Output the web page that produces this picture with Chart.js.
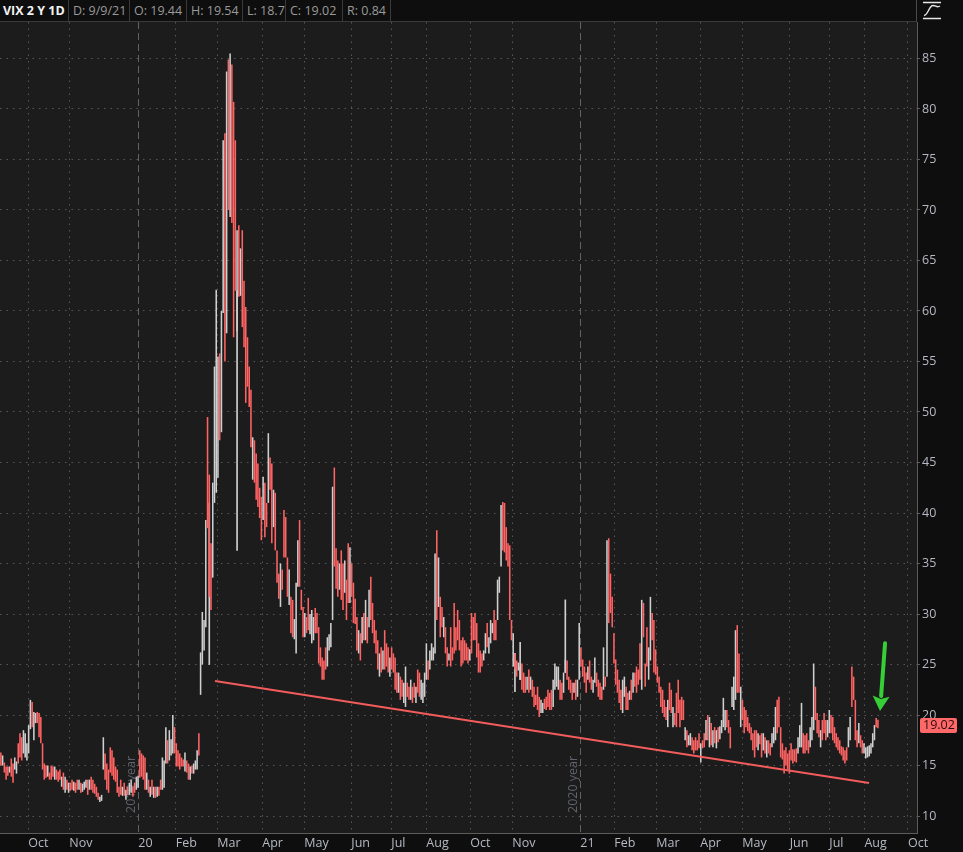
<!DOCTYPE html>
<html>
<head>
<meta charset="utf-8">
<title>VIX 2 Y 1D</title>
<script src="https://cdn.jsdelivr.net/npm/chart.js@4.4.1/dist/chart.umd.min.js"></script>
<style>
  html, body { margin: 0; padding: 0; background: #0e0e0e; }
  body { width: 963px; height: 852px; position: relative; overflow: hidden; font-family: 'Open Sans', sans-serif; }
  #hdr { position: absolute; left: 0; top: 0; width: 917px; height: 22px; border-bottom: 1px solid #3a3a3a; border-right: 1px solid #4a4a4a; box-sizing: border-box; }
  .cell { position: absolute; top: 0; height: 21px; border-right: 1px solid #3a3a3a; box-sizing: border-box;
          color: #9a9a9a; font-size: 12.5px; line-height: 21px; padding-left: 4px; white-space: nowrap; }
  .cell.sym { color: #f2f2f2; font-weight: bold; padding-left: 3px; }
  #icon { position: absolute; left: 922px; top: 1px; }
  #wrap { position: absolute; left: 0; top: 22px; width: 963px; height: 830px; }
</style>
</head>
<body>
<div id="hdr">
  <div class="cell sym" style="left:0;width:69px">VIX 2 Y 1D</div>
  <div class="cell" style="left:69px;width:61px">D: 9/9/21</div>
  <div class="cell" style="left:130px;width:57px">O: 19.44</div>
  <div class="cell" style="left:187px;width:56px">H: 19.54</div>
  <div class="cell" style="left:243px;width:43px">L: 18.7</div>
  <div class="cell" style="left:286px;width:57px">C: 19.02</div>
  <div class="cell" style="left:343px;width:48px">R: 0.84</div>
</div>
<svg id="icon" width="20" height="19" viewBox="0 0 20 19">
  <path d="M1 1.5H19M1 17.5H19" stroke="#e6e6e6" stroke-width="1.6" fill="none"/>
  <path d="M2 14.5C6 14.5 7 4.5 11 4.5C14 4.5 15 7 18 5" stroke="#e6e6e6" stroke-width="1.4" fill="none"/>
</svg>
<div id="wrap"><canvas id="myChart"></canvas></div>

<script>
// each trading day: [open side, close side] of the drawn range (red when it closes lower)
const sep19 = [[16.3,15.0],[15.0,16.0],[15.3,14.3],[14.9,13.6],[14.9,14.0],[14.3,14.9],[15.7,13.9],[15.2,13.3],[14.6,15.8],[14.2,15.4],[17.2,15.2],[18.2,15.8],[17.8,15.5],[16.2,18.5],[15.8,18.2],[15.5,17.2]];
const oct19 = [[16.2,19.0],[18.6,21.5],[21.3,18.8],[17.5,20.3],[19.2,20.2],[20.3,19.2],[20.2,17.8],[19.8,17.2],[17.2,14.6],[15.2,13.6],[15.0,13.8],[13.9,15.0],[14.3,13.6],[15.0,13.6],[14.9,13.9],[13.6,14.9],[14.6,13.6],[14.4,13.4],[14.6,13.6],[12.9,13.9],[14.3,12.6],[12.3,13.9],[13.6,12.6]];
const nov19 = [[12.3,13.3],[13.3,12.5],[13.6,12.6],[12.5,13.4],[13.3,12.3],[13.6,12.6],[12.6,13.6],[13.3,12.3],[12.4,13.2],[12.6,13.4],[12.8,13.6],[13.6,12.1],[12.6,13.6],[13.9,12.6],[13.6,12.3],[13.2,12.2],[12.9,11.9],[12.3,11.6],[11.4,11.9],[11.5,12.1]];
const dec19 = [[14.6,17.8],[16.2,13.6],[15.2,12.6],[14.6,12.3],[16.8,14.3],[16.5,14.0],[15.8,13.6],[14.9,13.4],[14.6,12.3],[12.9,11.9],[13.6,12.1],[12.0,12.9],[13.3,12.0],[11.6,12.6],[12.9,12.1],[12.1,13.3],[12.3,13.6],[12.9,11.9],[13.3,12.3],[12.6,13.9],[12.8,14.0]];
const jan20 = [[16.5,13.8],[16.2,13.9],[16.0,13.6],[15.8,12.6],[12.6,14.3],[13.6,12.3],[11.9,12.9],[13.6,12.1],[11.8,12.9],[12.9,11.8],[11.9,12.9],[12.9,12.0],[13.6,12.6],[12.6,15.8],[12.8,15.5],[15.2,18.8],[17.5,15.2],[15.5,18.5],[16.0,17.6],[16.2,20.0],[18.8,16.2]];
const feb20 = [[17.2,14.9],[16.5,14.9],[16.2,14.6],[15.8,14.9],[15.6,14.9],[14.4,16.3],[15.5,14.3],[15.2,13.6],[13.6,14.9],[15.0,14.2],[14.2,15.2],[14.6,15.5],[14.6,16.5],[18.2,16.0],[22.0,26.2],[25.0,30.2],[26.4,29.4],[28.7,39.3],[49.5,38.5]];
const mar20 = [[43.8,31.7],[37.0,30.4],[33.6,43.0],[41.0,54.5],[42.0,62.1],[43.5,55.5],[55.8,47.2],[48.0,60.0],[59.8,76.9],[77.6,55.0],[57.8,83.7],[84.9,70.0],[69.3,85.5],[84.4,68.7],[80.7,57.4],[76.9,62.0],[58.0,68.0],[68.5,61.4],[61.5,66.2],[68.0,58.4],[63.0,56.4],[60.4,50.9]];
const apr20 = [[57.4,52.5],[54.5,50.5],[52.2,46.5],[43.3,47.5],[47.2,43.0],[45.9,41.3],[44.9,40.6],[42.5,39.5],[41.6,37.3],[39.3,43.6],[43.0,37.6],[41.0,38.6],[41.0,47.9],[45.5,42.3],[44.9,37.0],[38.6,42.3],[42.0,36.3],[36.3,33.1],[34.0,31.5],[30.7,35.0],[34.4,32.4]];
const may20 = [[40.3,35.6],[39.6,35.6],[35.6,31.7],[30.9,34.4],[31.7,28.1],[31.4,27.7],[27.5,29.5],[26.1,33.1],[32.7,37.3],[39.3,32.7],[32.4,30.4],[30.7,27.7],[27.7,30.1],[29.7,28.1],[31.6,28.4],[28.0,30.0],[27.1,30.4],[27.4,29.7],[30.6,28.1],[30.1,28.1]];
const jun20 = [[28.7,25.1],[26.7,24.8],[25.7,23.5],[25.4,23.5],[26.7,24.5],[24.8,27.7],[26.4,28.0],[26.7,29.1],[29.4,42.6],[44.5,34.7],[36.5,32.5],[35.3,31.7],[32.4,35.0],[36.3,31.4],[35.0,30.4],[32.1,35.3],[33.4,29.4],[37.0,31.1],[31.1,36.6],[35.0,31.7],[33.1,29.1],[31.5,29.0]];
const jul20 = [[29.7,26.4],[26.1,28.4],[28.1,25.4],[27.1,29.7],[30.1,27.4],[27.4,31.4],[29.7,27.1],[28.7,32.4],[33.7,29.4],[31.1,28.1],[29.4,27.1],[28.4,26.1],[27.4,24.5],[23.8,26.1],[26.7,24.2],[24.5,26.4],[28.4,24.5],[27.1,24.8],[26.7,24.2],[23.8,25.7],[26.7,24.5],[26.1,24.2]];
const aug20 = [[25.7,22.5],[24.2,22.2],[22.2,24.2],[23.8,21.5],[23.5,21.8],[21.2,23.2],[20.8,24.8],[23.2,21.8],[22.8,21.5],[21.5,23.5],[22.8,21.2],[23.2,21.7],[21.2,22.8],[24.5,22.2],[24.2,21.8],[21.5,23.5],[21.2,23.2],[21.8,24.2],[23.5,27.1],[25.4,23.5],[24.5,26.4]];
const sep20 = [[25.4,27.1],[25.4,26.7],[26.1,36.0],[38.3,29.4],[30.7,35.6],[31.7,27.7],[30.7,28.7],[27.7,29.7],[28.7,26.1],[26.7,24.8],[25.4,26.1],[28.7,24.8],[26.7,25.4],[31.1,26.1],[28.7,26.4],[30.4,27.4],[29.4,26.4],[27.4,24.8],[27.7,25.1],[27.4,25.4],[27.1,25.4]];
const oct20 = [[26.7,25.1],[25.4,26.5],[30.1,26.1],[29.7,27.4],[30.1,27.4],[29.1,25.7],[27.1,24.2],[26.4,24.2],[26.1,24.8],[25.4,26.4],[26.1,28.1],[29.1,26.7],[26.1,27.7],[27.1,29.4],[28.1,29.1],[30.4,27.4],[29.4,27.4],[29.4,33.4],[32.1,33.7],[34.7,40.8],[41.1,36.3],[41.0,36.1]];
const nov20 = [[38.6,35.3],[37.0,34.7],[36.8,29.4],[29.4,27.4],[24.8,28.1],[26.1,24.5],[25.4,23.8],[24.4,25.2],[23.5,24.8],[25.1,22.5],[24.2,22.2],[23.8,22.2],[22.5,23.8],[24.5,22.2],[22.5,23.8],[23.5,21.8],[22.8,20.8],[22.0,21.0],[22.8,20.5],[21.8,19.8]];
const dec20 = [[20.2,21.5],[20.2,21.2],[21.6,20.6],[21.8,20.5],[22.5,20.8],[22.2,20.5],[22.5,20.5],[20.8,23.5],[22.5,25.1],[22.8,24.8],[22.5,24.8],[23.5,21.5],[23.2,21.5],[22.2,24.2],[24.2,25.5],[25.4,23.5],[23.8,22.5],[23.5,22.2],[23.2,21.5],[22.2,23.2],[23.5,21.5],[21.8,23.5]];
const jan21 = [[23.5,29.1],[26.7,24.8],[25.5,23.8],[24.8,23.2],[24.2,22.2],[23.5,24.8],[25.4,23.2],[23.8,22.5],[22.2,23.5],[23.2,25.7],[24.2,22.8],[23.5,21.8],[23.2,21.5],[22.8,21.5],[22.5,26.7],[23.8,22.8],[23.8,37.3],[37.5,29.1],[34.0,30.1]];
const feb21 = [[31.7,28.7],[28.1,25.1],[25.5,23.0],[24.5,22.2],[23.5,21.2],[22.5,20.5],[20.2,23.5],[21.8,23.8],[22.8,20.5],[22.2,20.5],[21.5,22.4],[23.5,21.5],[22.2,24.2],[24.2,22.8],[24.8,22.2],[24.5,23.0],[27.1,23.5],[22.5,31.4],[31.1,27.7]];
const mar21 = [[25.1,22.8],[28.7,24.8],[23.5,26.7],[25.4,31.7],[30.1,27.4],[29.4,24.2],[26.5,24.0],[24.8,23.2],[23.8,22.2],[22.8,20.8],[22.5,20.2],[21.5,19.8],[20.8,19.5],[18.8,21.5],[23.2,20.5],[22.5,20.2],[18.8,20.8],[20.2,19.0],[22.2,18.8],[23.5,20.2],[21.5,18.8],[21.8,19.5],[21.5,19.5]];
const apr21 = [[17.5,18.8],[18.5,16.8],[17.0,18.0],[17.0,18.2],[17.8,16.5],[17.5,16.2],[17.8,16.5],[17.5,16.5],[18.2,16.7],[15.3,17.2],[17.5,16.7],[18.2,16.8],[17.5,19.5],[20.0,17.5],[16.8,19.8],[19.2,17.0],[16.8,18.5],[18.8,17.2],[16.7,18.5],[18.8,17.3],[17.6,18.9]];
const may21 = [[18.2,19.5],[18.8,21.7],[18.5,20.5],[20.5,18.8],[19.5,18.2],[18.8,16.7],[20.8,22.8],[20.5,23.8],[21.5,28.4],[28.9,22.2],[26.1,22.2],[18.8,22.8],[21.5,19.5],[20.8,18.2],[20.5,18.8],[19.8,18.4],[19.2,18.2],[18.8,17.5],[18.2,16.5],[18.5,15.8]];
const jun21 = [[18.5,16.8],[16.5,18.2],[18.0,17.1],[18.2,15.8],[16.5,18.2],[17.8,16.2],[15.8,17.5],[17.5,16.2],[17.2,16.0],[16.8,18.2],[17.2,18.8],[17.5,20.8],[21.5,18.2],[21.8,18.8],[18.8,15.8],[17.2,15.6],[16.5,14.2],[16.8,15.0],[16.2,14.6],[16.5,14.2],[17.2,15.5],[16.6,15.2]];
const jul21 = [[16.6,15.4],[16.7,15.3],[16.2,17.8],[16.8,19.0],[16.8,21.2],[18.2,16.2],[18.0,16.2],[18.2,16.5],[17.5,16.2],[16.8,18.8],[17.5,19.8],[18.5,25.1],[22.8,19.5],[20.2,18.2],[19.5,17.8],[16.8,18.5],[19.5,17.5],[20.2,18.2],[19.5,17.5],[17.8,19.5],[18.2,20.5]];
const aug21 = [[20.0,18.2],[19.8,17.5],[18.8,17.2],[18.2,16.8],[17.8,16.5],[17.5,16.2],[16.9,16.0],[16.8,15.5],[16.5,15.2],[16.8,15.5],[16.8,18.8],[17.5,19.8],[24.8,20.8],[23.8,21.5],[21.5,17.5],[18.5,16.8],[17.2,19.2],[18.0,16.8],[17.5,16.2],[16.2,17.2],[15.7,16.8],[15.8,16.9]];
const sep21 = [[15.9,17.0],[16.2,17.2],[16.8,18.2],[17.5,19.0],[19.7,18.8],[19.54,18.7]];

// stray thin prints: [day index, low, high]
const wicks = [[120, 25.0, 41.0], [136, 36.3, 62.0], [296, 22.3, 26.1], [299, 23.5, 27.2], [325, 24.2, 31.4]];

// month labels on the time axis (day index where thinkorswim puts them)
const tickIdx  = [15.8, 39.4, 79.1, 100.7, 124.6, 150.5, 174.7, 201.8, 224.8, 245.0, 270.3, 294.5, 333.6, 353.2, 377.4, 402.7, 426.9, 454.2, 477.0, 497.2, 522.3];
const tickText = ['Oct', 'Nov', '20', 'Feb', 'Mar', 'Apr', 'May', 'Jun', 'Jul', 'Aug', 'Oct', 'Nov', '21', 'Feb', 'Mar', 'Apr', 'May', 'Jun', 'Jul', 'Aug', 'Oct'];
const yearNotes = ['2019 year', '2020 year'];
const priceTicks = [10, 15, 20, 25, 30, 35, 40, 45, 50, 55, 60, 65, 70, 75, 80, 85];

// trend line and arrow: [day index, price]
const trendLine = [[123.3, 23.37], [499.9, 13.27]];
const arrowTail = [509.1, 27.1];
const arrowTip = [506.2, 20.4];
const lastClose = 19.02;

const SLOTS = 528;
const RED = '#ff6363';
const WHITE = '#cfcfcf';
const GRID = '#575757';
const LABEL = '#b6b9c3';

const days = [sep19, oct19, nov19, dec19, jan20, feb20, mar20, apr20, may20, jun20, jul20, aug20,
              sep20, oct20, nov20, dec20, jan21, feb21, mar21, apr21, may21, jun21, jul21, aug21, sep21].flat();

const yearTicks = tickIdx.filter((v, i) => /^\d+$/.test(tickText[i]));

const extras = {
    id: 'extras',
    beforeDraw(chart) {
        const {ctx, chartArea: a} = chart;
        ctx.save();
        ctx.fillStyle = '#1c1c1c';
        ctx.fillRect(a.left, a.top, a.right - a.left, a.bottom - a.top);
        ctx.restore();
    },
    beforeDatasetsDraw(chart) {
        const {ctx, chartArea: a, scales} = chart;
        ctx.save();
        ctx.fillStyle = '#5e626b';
        ctx.font = '12.5px "Open Sans"';
        ctx.textAlign = 'left';
        ctx.textBaseline = 'alphabetic';
        yearTicks.forEach((v, i) => {
            const x = Math.round(scales.x.getPixelForValue(v)) - 3;
            ctx.save();
            ctx.translate(x, a.bottom - 20);
            ctx.rotate(-Math.PI / 2);
            ctx.fillText(yearNotes[i], 0, 0);
            ctx.restore();
        });
        ctx.restore();
    },
    afterDatasetsDraw(chart) {
        const {ctx, scales} = chart;
        const x1 = scales.x.getPixelForValue(arrowTail[0]);
        const y1 = scales.y.getPixelForValue(arrowTail[1]);
        const x2 = scales.x.getPixelForValue(arrowTip[0]);
        const y2 = scales.y.getPixelForValue(arrowTip[1]);
        const ang = Math.atan2(y2 - y1, x2 - x1);
        const head = 15, half = 8.5;
        const bx = x2 - head * Math.cos(ang), by = y2 - head * Math.sin(ang);
        ctx.save();
        ctx.strokeStyle = '#36cf36';
        ctx.fillStyle = '#36cf36';
        ctx.lineWidth = 4;
        ctx.lineCap = 'round';
        ctx.beginPath();
        ctx.moveTo(x1, y1);
        ctx.lineTo(bx, by);
        ctx.stroke();
        ctx.beginPath();
        ctx.moveTo(x2, y2);
        ctx.lineTo(bx + half * Math.sin(ang), by - half * Math.cos(ang));
        ctx.lineTo(bx + 3 * Math.cos(ang), by + 3 * Math.sin(ang));
        ctx.lineTo(bx - half * Math.sin(ang), by + half * Math.cos(ang));
        ctx.closePath();
        ctx.fill();
        ctx.restore();
    },
    afterDraw(chart) {
        const {ctx, chartArea: a, scales} = chart;
        const y = scales.y.getPixelForValue(lastClose);
        ctx.save();
        ctx.fillStyle = '#ff6868';
        ctx.beginPath();
        ctx.roundRect(a.right + 3, Math.round(y) - 7, 37, 15, 2);
        ctx.fill();
        ctx.fillStyle = '#2a0a0a';
        ctx.font = '12.5px "Open Sans"';
        ctx.textAlign = 'left';
        ctx.textBaseline = 'middle';
        ctx.fillText(lastClose.toFixed(2), a.right + 6, Math.round(y) + 0.5);
        ctx.restore();
    }
};

const ctx = document.getElementById('myChart');

new Chart(ctx, {
    type: 'bar',
    data: {
        datasets: [
            {
                type: 'line',
                data: trendLine.map(p => ({x: p[0], y: p[1]})),
                borderColor: '#f25c5c',
                borderWidth: 2,
                pointRadius: 0,
                order: 0
            },
            {
                data: days.map((d, i) => ({x: i, y: d})),
                backgroundColor: c => (c.raw && c.raw.y[1] < c.raw.y[0]) ? RED : WHITE,
                borderWidth: 0,
                grouped: false,
                categoryPercentage: 1,
                barPercentage: 0.9,
                order: 1
            },
            {
                data: wicks.map(w => ({x: w[0], y: [w[1], w[2]]})),
                backgroundColor: WHITE,
                borderWidth: 0,
                grouped: false,
                barThickness: 1,
                order: 2
            }
        ]
    },
    options: {
        responsive: true,
        maintainAspectRatio: false,
        animation: false,
        events: [],
        layout: { padding: 0 },
        plugins: {
            legend: { display: false },
            tooltip: { enabled: false }
        },
        scales: {
            x: {
                type: 'linear',
                bounds: 'data',
                offset: false,
                min: -0.5,
                max: SLOTS - 0.5,
                afterBuildTicks: s => { s.ticks = tickIdx.map(v => ({value: v})); },
                afterFit: s => { s.height = 19; s.paddingLeft = 0; s.paddingRight = 0; },
                ticks: {
                    autoSkip: false,
                    maxRotation: 0,
                    align: 'start',
                    padding: 3,
                    color: LABEL,
                    font: { family: 'Open Sans', size: 12.5 },
                    callback: (v, i) => tickText[i]
                },
                grid: {
                    offset: false,
                    drawTicks: false,
                    color: c => yearTicks.includes(c.tick && c.tick.value) ? '#626262' : GRID
                },
                border: {
                    display: true,
                    color: '#5c5c5c',
                    dash: c => (c.tick && yearTicks.includes(c.tick.value)) ? [7, 4] : [1.5, 5]
                }
            },
            y: {
                type: 'linear',
                position: 'right',
                bounds: 'data',
                beginAtZero: false,
                min: 8.32,
                max: 88.61,
                afterBuildTicks: s => { s.ticks = priceTicks.map(v => ({value: v})); },
                afterFit: s => { s.width = 46; s.paddingTop = 0; s.paddingBottom = 0; },
                ticks: {
                    padding: 2,
                    color: LABEL,
                    font: { family: 'Open Sans', size: 12.5 },
                    callback: v => String(v)
                },
                grid: {
                    color: GRID,
                    tickColor: '#5c5c5c',
                    tickLength: 3
                },
                border: {
                    display: true,
                    color: '#5c5c5c',
                    dash: c => c.tick ? [1.5, 5] : []
                }
            }
        }
    },
    plugins: [extras]
});
</script>
</body>
</html>
